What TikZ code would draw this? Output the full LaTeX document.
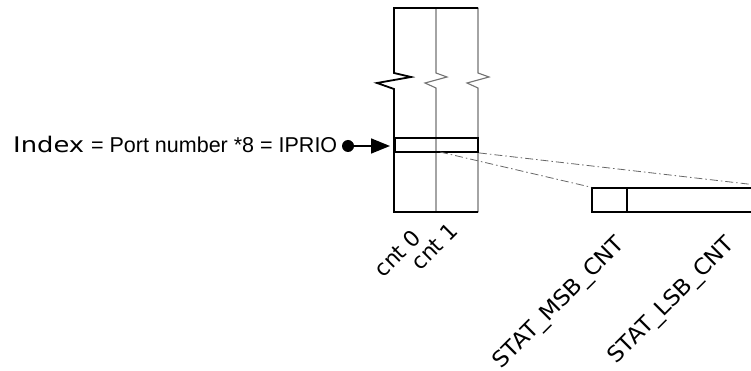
\documentclass[tikz,border=0pt]{standalone}
\usepackage{fontspec}
\setmainfont{DejaVu Sans}
\newfontfamily\arialf{Liberation Sans}
\newfontfamily\widef[FakeStretch=1.2]{DejaVu Sans}
\newfontfamily\lblf[FakeStretch=1.05]{DejaVu Sans}
\usetikzlibrary{arrows.meta}
\begin{document}
\begin{tikzpicture}[x=1pt,y=-1pt,
  wallline/.style={line width=1.8pt, black, line join=miter},
  grayline/.style={line width=1.1pt, black!55, line join=miter},
  rowbox/.style={draw, line width=1.8pt, black, minimum width=83pt, minimum height=14pt, inner sep=0pt},
  regbox/.style={draw, line width=1.5pt, black, inner sep=0pt},
  linkline/.style={line width=0.8pt, black!60, dash pattern=on 8pt off 3pt on 1.5pt off 3pt},
  lbl/.style={rotate=45, anchor=base east, inner sep=0pt, font=\fontsize{22}{26}\selectfont},
  reglbl/.style={lbl, font=\lblf\fontsize{22}{26}\selectfont},
  txt/.style={anchor=base west, inner sep=0pt, font=\fontsize{21.5}{25}\selectfont}]
\useasboundingbox (0,0) rectangle (751,371);
\clip (0,0) rectangle (751,371);
% tall column box
\draw[grayline] (436,8) -- (436,73) -- (447,77) -- (425,83) -- (436,88) -- (436,212);
\draw[grayline] (478,8) -- (478,73) -- (489,77) -- (467,83) -- (478,88) -- (478,212);
\draw[wallline] (478,8) -- (394,8) -- (394,73) -- (411,77) -- (377,83) -- (394,89) -- (394,212) -- (478,212);
% index row
\node[rowbox] (row) at (436.5,145) {};
% register box
\node[regbox, minimum width=183pt, minimum height=24pt] (reg) at (683.5,200) {};
\coordinate (div) at (627,188);
\draw[line width=1.5pt] (div) -- (627,212);
% links
\coordinate (rowmid) at (440,152);
\draw[linkline] (row.south east) -- (reg.north east);
\draw[linkline] (rowmid) -- (reg.north west);
% index text and arrow
\node[txt] (idx) at (13,152.5) {{\widef Index} {\arialf = Port number *8 = IPRIO}};
\node[circle, fill=black, inner sep=0pt, minimum size=12pt] (dot) at (348,146) {};
\draw[line width=1.6pt, -{Triangle[length=19pt,width=15pt]}] (dot.center) -- (390,146) coordinate (tip);
% labels
\node[lbl] (c0) at (423,239) {cnt 0};
\node[lbl] (c1) at (460,232) {cnt 1};
\node[reglbl] (msb) at (626,245) {STAT\_MSB\_CNT};
\node[reglbl] (lsb) at (736,245) {STAT\_LSB\_CNT};
\end{tikzpicture}
\end{document}
